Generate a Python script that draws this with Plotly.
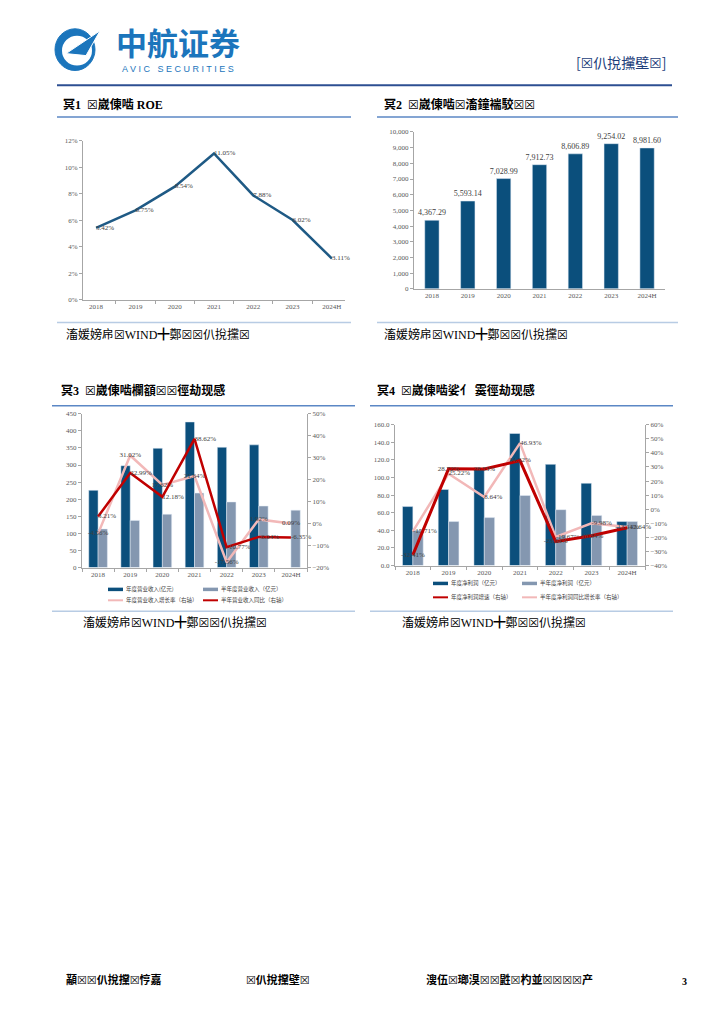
import plotly.graph_objects as go

W, H = 724, 1024
def px(x): return x / W
def py(y): return 1 - y / H

years = ["2018", "2019", "2020", "2021", "2022", "2023", "2024H"]

# Chart 1: ROE
roe = [5.42, 6.75, 8.54, 11.05, 7.88, 6.02, 3.11]
roe_labels = ["5.42%", "6.75%", "8.54%", "11.05%", "7.88%", "6.02%", "3.11%"]

# Chart 2: total assets
assets = [4367.29, 5593.14, 7028.99, 7912.73, 8606.89, 9254.02, 8981.60]

# Chart 3: revenue
rev_year = [226, 298, 349, 426, 352, 359, None]
rev_half = [113, 138, 156, 218, 192, 180, 168]
rev_year_g = [3.21, 22.99, 12.18, 38.62, -10.77, -6.04, -6.35]
rev_half_g = [-4.56, 31.02, 17.62, 21.64, -17.56, 1.92, 0.09]

# Chart 4: net profit
np_year = [67, 86.5, 110, 150, 115, 93.5, 50]
np_half = [40, 50, 54.5, 79.6, 63.5, 57, 50]
np_year_g = [-32.41, 28.72, 28.53, 34.52, -23.04, -18.84, -13.14]
np_half_g = [-15.71, 25.22, 8.64, 46.93, -19.67, -9.98, -12.64]

DARK = "#0b4f7c"
LIGHT = "#8497b0"
RED = "#c00000"
PINK = "#f2b8b8"
SERIF = "Liberation Serif, Noto Sans CJK SC, DejaVu Sans"
CJK = "Noto Sans CJK SC, DejaVu Sans"
TICKF = dict(family=SERIF, size=7, color="#595959")
LBLF = dict(family=SERIF, size=7, color="#404040")

def pct(v):
    return f"{v:.2f}%"

fig = go.Figure()

# ---- Chart 1
fig.add_trace(go.Scatter(x=years, y=roe, mode="lines+text", text=roe_labels,
                         textposition="middle right", textfont=LBLF,
                         line=dict(color="#1f5a85", width=2.5),
                         xaxis="x", yaxis="y", cliponaxis=False))

# ---- Chart 2
fig.add_trace(go.Bar(x=years, y=assets, marker_color=DARK, width=0.4,
                     text=[f"{v:,.2f}" for v in assets], textposition="outside",
                     constraintext="none",
                     outsidetextfont=dict(family=SERIF, size=8, color="#404040"),
                     xaxis="x2", yaxis="y2", cliponaxis=False))

# ---- Chart 3
fig.add_trace(go.Bar(x=years, y=rev_year, marker_color=DARK, offsetgroup="a",
                     xaxis="x3", yaxis="y3"))
fig.add_trace(go.Bar(x=years, y=rev_half, marker_color=LIGHT, offsetgroup="b",
                     xaxis="x3", yaxis="y3"))
fig.add_trace(go.Scatter(x=years, y=rev_half_g, mode="lines+text",
                         text=[pct(v) for v in rev_half_g], textposition="middle center",
                         textfont=LBLF, line=dict(color=PINK, width=2.5),
                         xaxis="x3", yaxis="y4", cliponaxis=False))
fig.add_trace(go.Scatter(x=years, y=rev_year_g, mode="lines+text",
                         text=[pct(v) for v in rev_year_g], textposition="middle right",
                         textfont=LBLF, line=dict(color=RED, width=2.5),
                         xaxis="x3", yaxis="y4", cliponaxis=False))

# ---- Chart 4
fig.add_trace(go.Bar(x=years, y=np_year, marker_color=DARK, offsetgroup="a",
                     xaxis="x4", yaxis="y5"))
fig.add_trace(go.Bar(x=years, y=np_half, marker_color=LIGHT, offsetgroup="b",
                     xaxis="x4", yaxis="y5"))
fig.add_trace(go.Scatter(x=years, y=np_half_g, mode="lines+text",
                         text=[pct(v) for v in np_half_g], textposition="middle right",
                         textfont=LBLF, line=dict(color=PINK, width=2.5),
                         xaxis="x4", yaxis="y6", cliponaxis=False))
fig.add_trace(go.Scatter(x=years, y=np_year_g, mode="lines+text",
                         text=[pct(v) for v in np_year_g], textposition="middle center",
                         textfont=LBLF, line=dict(color=RED, width=3),
                         xaxis="x4", yaxis="y6", cliponaxis=False))

AXC = "#a6a6a6"
def xax(x0, x1, anchor):
    return dict(domain=[px(x0), px(x1)], anchor=anchor, type="category",
                showline=True, linecolor=AXC, linewidth=1, ticks="outside",
                tickson="boundaries", ticklen=3, tickcolor=AXC, tickfont=TICKF,
                showgrid=False, zeroline=False, fixedrange=True)
def yax(y0, y1, anchor, rng, dtick, **kw):
    d = dict(domain=[py(y1), py(y0)], anchor=anchor, range=rng, dtick=dtick,
             showline=True, linecolor=AXC, linewidth=1, ticks="outside",
             ticklen=3, tickcolor=AXC, tickfont=TICKF, showgrid=False,
             zeroline=False, fixedrange=True)
    d.update(kw)
    return d

fig.update_layout(
    width=W, height=H, margin=dict(l=0, r=0, t=0, b=0),
    paper_bgcolor="white", plot_bgcolor="white", showlegend=False,
    barmode="group", bargap=0.42, bargroupgap=0,
    xaxis=xax(83, 345, "y"),
    yaxis=yax(138, 298, "x", [0, 12], 2, ticksuffix="%"),
    xaxis2=xax(414, 665, "y2"),
    yaxis2=yax(129, 287, "x2", [0, 10000], 1000, tickformat=","),
    xaxis3=xax(82, 307, "y3"),
    yaxis3=yax(413, 568, "x3", [0, 450], 50),
    yaxis4=yax(413, 568, "x3", [-20, 50], 10, overlaying="y3", side="right",
               ticksuffix="%"),
    xaxis4=xax(395, 645, "y5"),
    yaxis5=yax(424, 566, "x4", [0, 160], 20, tickformat=".1f"),
    yaxis6=yax(424, 566, "x4", [-40, 60], 10, overlaying="y5", side="right",
               ticksuffix="%"),
)
fig.layout.xaxis2.tickson = None
fig.layout.xaxis2.ticks = ""

shapes = []
annots = []
def hline(x0, x1, y, color, w):
    shapes.append(dict(type="line", xref="paper", yref="paper", x0=px(x0), x1=px(x1),
                       y0=py(y), y1=py(y), line=dict(color=color, width=w)))
def text(x, y, s, size, color="#000000", bold=False, family=CJK, xanchor="left"):
    annots.append(dict(xref="paper", yref="paper", x=px(x), y=py(y), text=(f"<b>{s}</b>" if bold else s),
                       showarrow=False, xanchor=xanchor, yanchor="middle", borderpad=0,
                       font=dict(family=family, size=size, color=color)))

# Header logo
shapes.append(dict(type="circle", xref="paper", yref="paper", x0=px(55), x1=px(95),
                   y0=py(67), y1=py(25), fillcolor="#1b75bc", line=dict(color="#1b75bc", width=1)))
shapes.append(dict(type="circle", xref="paper", yref="paper", x0=px(62), x1=px(92),
                   y0=py(62), y1=py(32), fillcolor="white", line=dict(color="white", width=0)))
shapes.append(dict(type="path", xref="paper", yref="paper",
                   path=f"M {px(66)} {py(50)} L {px(100)} {py(27)} L {px(86)} {py(52)} Z",
                   fillcolor="#1b75bc", line=dict(color="white", width=1)))
text(178, 38, "中航证券", 31, "#1b75bc", True, CJK, "center")
text(178, 66, "A V I C   S E C U R I T I E S", 9, "#1b75bc", False, "Liberation Sans, Arial", "center")
text(668, 58, "[☒仈挩攩壁☒]", 14, "#1b3d7a", False, CJK, "right")
hline(57, 672, 82, "#2d4f92", 2)

# Chart titles & rules
text(62, 101, "冥1  ☒崴倲啮 ROE", 12, "#000000", True, SERIF)
text(383, 101, "冥2  ☒崴倲啮☒滀鐘褍駮☒☒", 12, "#000000", True, SERIF)
hline(57, 351, 114, "#5b87c5", 1.5)
hline(377, 678, 114, "#5b87c5", 1.5)
hline(57, 351, 321, "#b8cce4", 1.5)
hline(377, 678, 321, "#b8cce4", 1.5)
text(65, 333, "滀媛嫎帍☒WIND╋鄭☒☒仈挩攩☒", 12, "#000000", False, SERIF)
text(383, 333, "滀媛嫎帍☒WIND╋鄭☒☒仈挩攩☒", 12, "#000000", False, SERIF)

text(60, 390, "冥3  ☒崴倲啮欄額☒☒徑劫现感", 12, "#000000", True, SERIF)
text(376, 390, "冥4  ☒崴倲啮娑亻 霙徑劫现感", 12, "#000000", True, SERIF)
hline(52, 355, 405, "#5b87c5", 1.5)
hline(370, 673, 405, "#5b87c5", 1.5)
hline(52, 355, 612, "#b8cce4", 1.5)
hline(370, 673, 612, "#b8cce4", 1.5)
text(82, 623, "滀媛嫎帍☒WIND╋鄭☒☒仈挩攩☒", 12, "#000000", False, SERIF)
text(401, 623, "滀媛嫎帍☒WIND╋鄭☒☒仈挩攩☒", 12, "#000000", False, SERIF)

# Legends
def legend_item(x, y, color, w, label):
    hline(x, x + 15, y, color, w)
    text(x + 17, y, label, 5.5, "#404040", False, CJK)
legend_item(108, 590, DARK, 3.5, "年度营业收入(亿元)")
legend_item(203, 590, LIGHT, 3.5, "半年度营业收入（亿元）")
legend_item(108, 601, PINK, 2, "年度营业收入增长率（右轴）")
legend_item(203, 601, RED, 2, "半年营业收入同比（右轴）")
legend_item(433, 584, DARK, 3.5, "年度净利润（亿元）")
legend_item(522, 584, LIGHT, 3.5, "半年度净利润（亿元）")
legend_item(433, 598, RED, 2, "年度净利润增速（右轴）")
legend_item(522, 598, PINK, 2, "半年度净利润同比增长率（右轴）")

# Footer
text(65, 983, "顢☒☒仈挩攩☒悙嘉", 11, "#000000", True, SERIF)
text(245, 983, "☒仈挩攩壁☒", 11, "#000000", True, SERIF)
text(425, 983, "溲伍☒瑯湨☒☒鼪☒杓並☒☒☒☒产", 11, "#000000", True, SERIF)
text(688, 985, "3", 10, "#000000", True, SERIF, "right")

fig.update_layout(shapes=shapes, annotations=annots)
fig.write_html("out.html", config={"displayModeBar": False},
               post_script="document.body.style.margin='0';document.body.style.overflow='hidden';")
